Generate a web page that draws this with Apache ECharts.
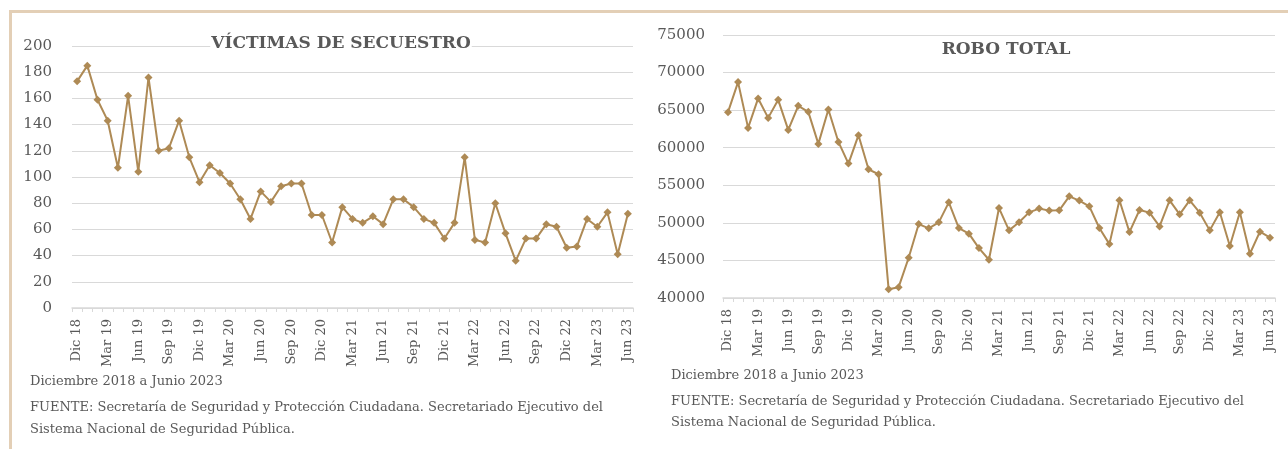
<!DOCTYPE html>
<html>
<head>
<meta charset="utf-8">
<script src="https://cdn.jsdelivr.net/npm/echarts@6/dist/echarts.min.js"></script>
<style>
html,body{margin:0;padding:0;background:#fff;}
#chart{width:1288px;height:449px;}
</style>
</head>
<body>
<div id="chart"></div>
<script>
var categories = [
  "Dic 18",
  "Ene 19","Feb 19","Mar 19","Abr 19","May 19","Jun 19","Jul 19","Ago 19","Sep 19","Oct 19","Nov 19","Dic 19",
  "Ene 20","Feb 20","Mar 20","Abr 20","May 20","Jun 20","Jul 20","Ago 20","Sep 20","Oct 20","Nov 20","Dic 20",
  "Ene 21","Feb 21","Mar 21","Abr 21","May 21","Jun 21","Jul 21","Ago 21","Sep 21","Oct 21","Nov 21","Dic 21",
  "Ene 22","Feb 22","Mar 22","Abr 22","May 22","Jun 22","Jul 22","Ago 22","Sep 22","Oct 22","Nov 22","Dic 22",
  "Ene 23","Feb 23","Mar 23","Abr 23","May 23","Jun 23"
];

var secuestro = [173,185,159,143,107,162,104,176,120,122,143,115,96,109,103,95,83,68,89,81,93,95,95,71,71,50,77,68,65,70,64,83,83,77,68,65,53,65,115,52,50,80,57,36,53,53,64,62,46,47,68,62,73,41,72];

var roboTotal = [64730,68730,62640,66560,63970,66370,62370,65570,64770,60510,65090,60770,57890,61670,57130,56470,41170,41440,45360,49840,49270,50070,52730,49310,48560,46640,45090,51970,49000,50070,51400,51900,51630,51670,53530,52960,52200,49310,47170,53000,48770,51710,51360,49530,53000,51130,53000,51360,49000,51400,46910,51400,45890,48830,48030];

var titleLeft = "VÍCTIMAS DE SECUESTRO";
var titleRight = "ROBO TOTAL";
var noteLines = [
  "Diciembre 2018 a Junio 2023",
  "FUENTE: Secretaría de Seguridad y Protección Ciudadana. Secretariado Ejecutivo del",
  "Sistema Nacional de Seguridad Pública."
];

var lineColor = "#ae8a55";
var gridColor = "#d9d9d9";
var textColor = "#595959";
var borderColor = "#e3cfb6";

function xAxisDef(gi){
  return {
    type: "category", gridIndex: gi, data: categories, boundaryGap: true,
    axisLine: {show: true, lineStyle: {color: gridColor, width: 1.5}},
    axisTick: {show: true, interval: 0, length: 4, lineStyle: {color: gridColor, width: 1}},
    axisLabel: {interval: 2, rotate: 90, margin: 11, color: textColor, fontFamily: "DejaVu Serif", fontSize: 13}
  };
}
function yAxisDef(gi, min, max, interval, margin){
  return {
    type: "value", gridIndex: gi, min: min, max: max, interval: interval,
    axisLine: {show: false}, axisTick: {show: false},
    axisLabel: {color: textColor, fontFamily: "DejaVu Serif", fontSize: 15, margin: margin,
      formatter: function(v){ return String(v); }},
    splitLine: {show: true, lineStyle: {color: gridColor, width: 1.2}}
  };
}
function seriesDef(gi, data){
  return {
    type: "line", xAxisIndex: gi, yAxisIndex: gi, data: data,
    symbol: "diamond", symbolSize: 8, showSymbol: true, showAllSymbol: true,
    lineStyle: {color: lineColor, width: 2},
    itemStyle: {color: lineColor},
    animation: false
  };
}
function noteTexts(x, ys){
  return noteLines.map(function(t, i){
    return {type: "text", left: x, top: ys[i], style: {text: t, fill: textColor, font: "13px 'DejaVu Serif'"}};
  });
}

var chart = echarts.init(document.getElementById("chart"), null, {renderer: "canvas"});
var option = {
  animation: false,
  backgroundColor: "#ffffff",
  grid: [
    {left: 72, top: 46, width: 561, height: 262},
    {left: 723, top: 35, width: 552, height: 263}
  ],
  xAxis: [xAxisDef(0), xAxisDef(1)],
  yAxis: [yAxisDef(0, 0, 200, 20, 20), yAxisDef(1, 40000, 75000, 5000, 18)],
  series: [seriesDef(0, secuestro), seriesDef(1, roboTotal)],
  graphic: [
    {type: "rect", shape: {x: 9, y: 10, width: 1279, height: 3}, style: {fill: borderColor}},
    {type: "rect", shape: {x: 9, y: 10, width: 3, height: 439}, style: {fill: borderColor}},
    {type: "text", x: 341, y: 44, z: 10, style: {text: titleLeft, fill: textColor, font: "bold 17px 'DejaVu Serif'", align: "center", verticalAlign: "middle", backgroundColor: "#ffffff", padding: [1, 1]}},
    {type: "text", x: 1006, y: 50, z: 10, style: {text: titleRight, fill: textColor, font: "bold 17px 'DejaVu Serif'", align: "center", verticalAlign: "middle"}}
  ].concat(noteTexts(30, [375, 401, 423])).concat(noteTexts(671, [369, 395, 416]))
};
chart.setOption(option);
</script>
</body>
</html>
